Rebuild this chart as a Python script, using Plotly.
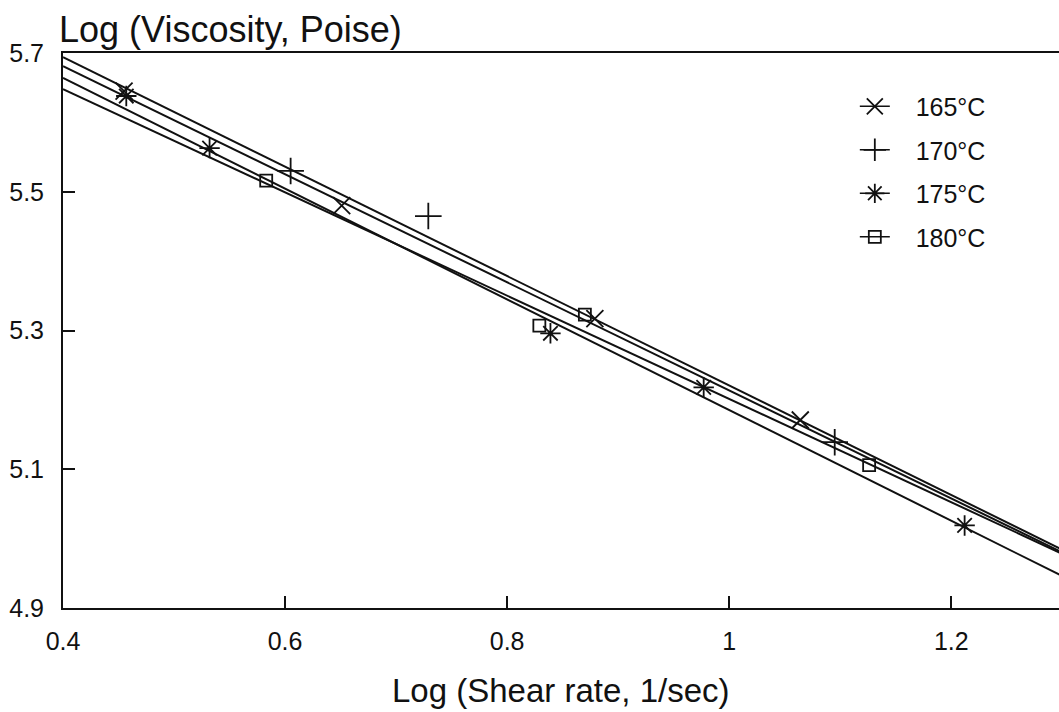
import plotly.graph_objects as go

# ---- data ----
temps = ["165°C", "170°C", "175°C", "180°C"]

x_165 = [0.455, 0.651, 0.879, 1.064]
y_165 = [5.645, 5.480, 5.317, 5.171]

x_170 = [0.605, 0.729, 1.095]
y_170 = [5.530, 5.465, 5.139]

x_175 = [0.457, 0.532, 0.839, 0.977, 1.212]
y_175 = [5.638, 5.563, 5.296, 5.218, 5.019]

x_180 = [0.583, 0.829, 0.870, 1.126]
y_180 = [5.516, 5.307, 5.323, 5.106]

# fitted regression lines (values at the ends of the x range)
fit_x = [0.4, 1.3]
fit_165 = [5.694, 4.984]
fit_170 = [5.681, 4.980]
fit_175 = [5.664, 4.946]
fit_180 = [5.648, 4.978]

x_ticks = [0.4, 0.6, 0.8, 1.0, 1.2]
x_tick_text = ["0.4", "0.6", "0.8", "1", "1.2"]
y_ticks = [4.9, 5.1, 5.3, 5.5, 5.7]
y_tick_text = ["4.9", "5.1", "5.3", "5.5", "5.7"]

# ---- styling ----
FONT = "Liberation Sans, Arial, Helvetica, sans-serif"
BLACK = "#111111"

series = [
    (temps[0], x_165, y_165, fit_165, "x-thin-open", 17),
    (temps[1], x_170, y_170, fit_170, "cross-thin-open", 19),
    (temps[2], x_175, y_175, fit_175, "asterisk-open", 17),
    (temps[3], x_180, y_180, fit_180, "square-open", 12),
]

fig = go.Figure()

for name, xs, ys, fit, sym, sz in series:
    fig.add_trace(go.Scatter(
        x=fit_x, y=fit, mode="lines",
        line=dict(color=BLACK, width=2),
        showlegend=False, hoverinfo="skip"))
    fig.add_trace(go.Scatter(
        x=xs, y=ys, mode="markers",
        marker=dict(symbol=sym, size=sz, color=BLACK,
                    line=dict(color=BLACK, width=1.8)),
        showlegend=False, name=name))

# legend entries (line + marker)
for i, (name, xs, ys, fit, sym, sz) in enumerate(series):
    fig.add_trace(go.Scatter(
        x=[None], y=[None], mode="lines+markers",
        name="\u00a0\u00a0\u00a0" + name,
        legendgroup=f"g{i}",
        line=dict(color=BLACK, width=1.6),
        marker=dict(symbol=sym, size=sz, color=BLACK,
                    line=dict(color=BLACK, width=1.8))))

fig.update_layout(
    width=1059, height=712,
    margin=dict(l=63, r=0, t=53, b=104),
    paper_bgcolor="white", plot_bgcolor="white",
    font=dict(family=FONT, color=BLACK, size=24),
    showlegend=True,
    legend=dict(
        x=0.795, y=0.945, xanchor="left", yanchor="top",
        bgcolor="rgba(0,0,0,0)", borderwidth=0,
        font=dict(family=FONT, size=25, color=BLACK),
        tracegroupgap=8,
    ),
    xaxis=dict(
        range=[0.4, 1.297], tickmode="array",
        tickvals=x_ticks, ticktext=x_tick_text,
        ticks="inside", ticklen=12, tickwidth=2, tickcolor=BLACK,
        showline=True, linecolor=BLACK, linewidth=2, mirror=True,
        showgrid=False, zeroline=False,
        ticklabelstandoff=10,
        tickfont=dict(family=FONT, size=25, color=BLACK),
    ),
    yaxis=dict(
        range=[4.9, 5.7], tickmode="array",
        tickvals=y_ticks, ticktext=y_tick_text,
        ticks="inside", ticklen=12, tickwidth=2, tickcolor=BLACK,
        showline=True, linecolor=BLACK, linewidth=2,
        showgrid=False, zeroline=False,
        ticklabelstandoff=12,
        tickfont=dict(family=FONT, size=25, color=BLACK),
    ),
    annotations=[
        dict(text="Log (Viscosity, Poise)", xref="paper", yref="paper",
             x=-0.006, y=1.0, xanchor="left", yanchor="bottom", yshift=1,
             showarrow=False, font=dict(family=FONT, size=36, color=BLACK)),
        dict(text="Log (Shear rate, 1/sec)", xref="paper", yref="paper",
             x=0.5, y=-0.148, xanchor="center", yanchor="middle",
             showarrow=False, font=dict(family=FONT, size=33, color=BLACK)),
    ],
)

fig.write_html("out.html")
